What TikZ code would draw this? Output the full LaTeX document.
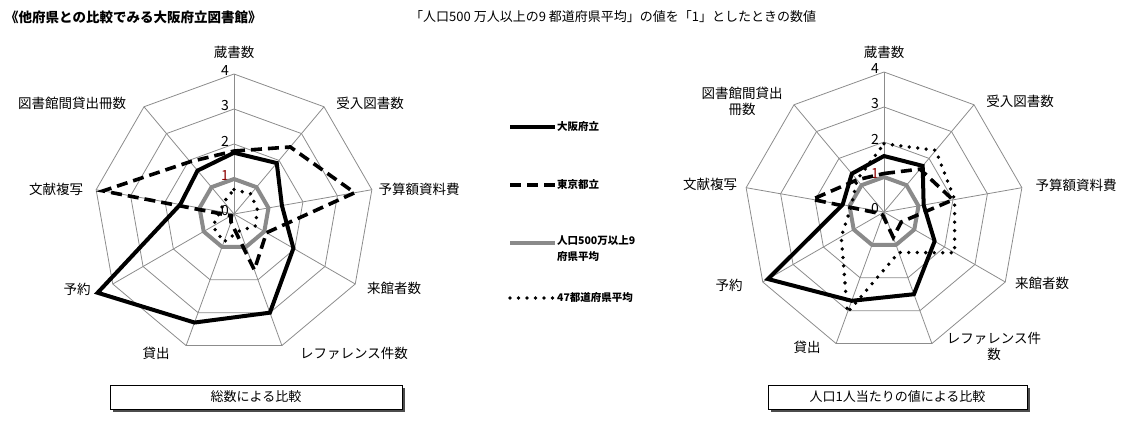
\documentclass[tikz,border=0pt]{standalone}
\usepackage{fontspec}
\setmainfont{Noto Sans CJK JP}
\usetikzlibrary{calc}
\definecolor{gridc}{HTML}{8C8C8C}
\definecolor{avgc}{HTML}{8A8A8A}
\tikzset{
  lbl/.style={font=\fontsize{13.5}{16}\selectfont, inner sep=0pt, align=center},
  tick/.style={font=\fontsize{14}{15}\selectfont, inner sep=0pt},
  gridl/.style={draw=gridc, line width=0.8pt},
  osaka/.style={draw=black, line width=4pt, line join=miter},
  tokyo/.style={draw=black, line width=3.6pt, dash pattern=on 11pt off 6pt},
  avg9/.style={draw=avgc, line width=4pt},
  avg47/.style={draw=black, line width=3.8pt, line cap=round, dash pattern=on 0pt off 8.5pt},
  capbox/.style={draw=black, line width=0.8pt, fill=white, minimum width=292pt, minimum height=24pt, font=\fontsize{13}{15}\selectfont},
  leg/.style={inner sep=0pt, font=\bfseries\fontsize{10.5}{16}\selectfont, align=left},
}
\newcommand\radarpoly[4]{% center, prefix, style, values
  \foreach \v [count=\i from 0] in {#4} {\coordinate (#2-\i) at ($(#1)+({90-40*\i}:{\v*35})$);}
  \draw[#3] (#2-0)--(#2-1)--(#2-2)--(#2-3)--(#2-4)--(#2-5)--(#2-6)--(#2-7)--(#2-8)--cycle;
}
\newcommand\radargrid[2]{% center, prefix
  \foreach \r in {1,2,3,4} {
    \foreach \i in {0,...,8} {\coordinate (#2g\r-\i) at ($(#1)+({90-40*\i}:{\r*35})$);}
    \draw[gridl] (#2g\r-0)--(#2g\r-1)--(#2g\r-2)--(#2g\r-3)--(#2g\r-4)--(#2g\r-5)--(#2g\r-6)--(#2g\r-7)--(#2g\r-8)--cycle;
  }
  \foreach \i in {0,...,8} {\draw[gridl] (#1)--(#2g4-\i);}
  \foreach \r in {0,2,3,4} {\node[tick, anchor=east] at ($(#1)+(-5,\r*35+3)$) {\r};}
  \node[tick, anchor=east, text=red!55!black] at ($(#1)+(-5,38)$) {1};
}
\begin{document}
\begin{tikzpicture}[x=1pt,y=1pt]
\useasboundingbox (0,0) rectangle (1132,-424);
\coordinate (cL) at (234,-214);
\coordinate (cR) at (884,-212);
% titles
\node[anchor=west, font=\bfseries\fontsize{13.5}{15}\selectfont, inner sep=0pt] (title) at (5,-17) {《他府県との比較でみる大阪府立図書館》};
\node[anchor=west, font=\fontsize{13}{15}\selectfont, inner sep=0pt] (sub) at (410,-17) {「人口500 万人以上の9 都道府県平均」の値を「1」としたときの数値};
% left chart
\radargrid{cL}{L}
\radarpoly{cL}{La}{avg9}{1,1,1,1,1,1,1,1,1}
\radarpoly{cL}{Lb}{avg47}{0.7,0.75,0.68,0.7,0.5,0.85,0.7,0.4,0.45}
\radarpoly{cL}{Lt}{tokyo}{1.8,2.5,3.5,1.07,1.7,0.25,0.1,3.8,1.95}
\radarpoly{cL}{Lo}{osaka}{1.75,1.9,1.39,1.96,3.0,3.3,4.5,1.56,1.62}
\node[lbl] (l0) at (234,-52) {蔵書数};
\node[lbl] (l1) at (370,-103) {受入図書数};
\node[lbl] (l2) at (419,-189) {予算額資料費};
\node[lbl] (l3) at (394,-288) {来館者数};
\node[lbl] (l4) at (354,-353) {レファレンス件数};
\node[lbl] (l5) at (156,-353) {貸出};
\node[lbl] (l6) at (77,-289) {予約};
\node[lbl] (l7) at (56,-189) {文献複写};
\node[lbl] (l8) at (72,-103) {図書館間貸出冊数};
% right chart
\radargrid{cR}{R}
\radarpoly{cR}{Ra}{avg9}{1,1,1,1,1,1,1,1,1}
\radarpoly{cR}{Rb}{avg47}{1.95,2.3,2.05,2.33,1.23,3.06,1.41,0.95,1.2}
\radarpoly{cR}{Rt}{tokyo}{1.1,1.6,2.0,0.57,0.77,0.1,0.1,2.08,1.2}
\radarpoly{cR}{Ro}{osaka}{1.6,1.72,1.15,1.67,2.5,2.7,3.83,1.2,1.43}
\node[lbl] (r0) at (884,-52) {蔵書数};
\node[lbl] (r1) at (1020,-101) {受入図書数};
\node[lbl] (r2) at (1076,-185) {予算額資料費};
\node[lbl] (r3) at (1042,-283) {来館者数};
\node[lbl] (r4) at (994,-346) {レファレンス件\\数};
\node[lbl] (r5) at (807,-347) {貸出};
\node[lbl] (r6) at (729,-285) {予約};
\node[lbl] (r7) at (710,-184) {文献複写};
\node[lbl] (r8) at (742,-101) {図書館間貸出\\冊数};
% legend
\coordinate (g1a) at (510,-127); \coordinate (g1b) at (555,-127);
\coordinate (g2a) at (510,-185); \coordinate (g2b) at (555,-185);
\coordinate (g3a) at (510,-243); \coordinate (g3b) at (555,-243);
\coordinate (g4a) at (510,-298); \coordinate (g4b) at (555,-298);
\draw[osaka] (g1a)--(g1b);
\draw[tokyo] (g2a)--(g2b);
\draw[avg9] (g3a)--(g3b);
\draw[avg47] (g4a)--(g4b);
\node[leg, anchor=west] (t1) at (557,-127) {大阪府立};
\node[leg, anchor=west] (t2) at (557,-185) {東京都立};
\node[leg, anchor=north west] (t3) at (557,-235) {人口500万以上9\\府県平均};
\node[leg, anchor=west] (t4) at (557,-298) {47都道府県平均};
% caption boxes
\fill[black!70] (113,-388) rectangle (405,-412);
\node[capbox] (bL) at (256,-397) {総数による比較};
\fill[black!70] (771,-388) rectangle (1030,-412);
\node[capbox, minimum width=259pt] (bR) at (897.5,-397) {人口1人当たりの値による比較};
\end{tikzpicture}
\end{document}
